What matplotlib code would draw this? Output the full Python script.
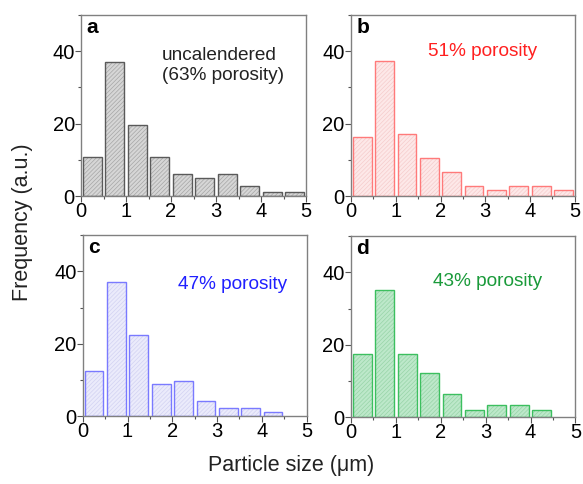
import matplotlib
matplotlib.use('Agg')
import matplotlib.pyplot as plt
from matplotlib.ticker import MultipleLocator

plt.rcParams['font.family'] = ['Liberation Sans', 'DejaVu Sans']
plt.rcParams['hatch.linewidth'] = 0.5

# bin centres (um) and frequencies
bin_centers = [0.25, 0.75, 1.25, 1.75, 2.25, 2.75, 3.25, 3.75, 4.25, 4.75]
freq_a = [10.9, 37.0, 19.5, 10.9, 6.0, 4.9, 6.0, 2.9, 1.0, 1.0]
freq_b = [16.3, 37.2, 17.2, 10.5, 6.6, 2.8, 1.8, 2.8, 2.8, 1.8]
freq_c = [12.5, 37.0, 22.5, 9.0, 9.6, 4.1, 2.2, 2.2, 1.1]
freq_d = [17.5, 35.1, 17.5, 12.1, 6.5, 2.1, 3.3, 3.3, 2.1]

panels = [
    dict(letter='a', data=freq_a, label='uncalendered\n(63% porosity)',
         face='#d6d6d6', edge='#5a5a5a', hatch_col='#a6a6a6', txt='#222222',
         pos=[0.139, 0.595, 0.386, 0.374], tx=0.36, ty=0.72, ha='left'),
    dict(letter='b', data=freq_b, label='51% porosity',
         face='#fde8e8', edge='#ff7a7a', hatch_col='#f6cccc', txt='#ff2020',
         pos=[0.602, 0.595, 0.384, 0.374], tx=0.59, ty=0.80, ha='center'),
    dict(letter='c', data=freq_c, label='47% porosity',
         face='#ebebfb', edge='#7a7aff', hatch_col='#d2d2f2', txt='#2020ff',
         pos=[0.142, 0.140, 0.384, 0.374], tx=0.67, ty=0.73, ha='center'),
    dict(letter='d', data=freq_d, label='43% porosity',
         face='#bde8ca', edge='#3cbf5f', hatch_col='#98d4a8', txt='#1a9a3a',
         pos=[0.602, 0.138, 0.385, 0.374], tx=0.61, ty=0.75, ha='center'),
]

fig = plt.figure(figsize=(5.83, 4.84), dpi=100)

for p in panels:
    ax = fig.add_axes(p['pos'])
    x = bin_centers[:len(p['data'])]
    ax.bar(x, p['data'], width=0.42, color=p['face'], edgecolor=p['hatch_col'],
           hatch='////////', linewidth=0)
    ax.bar(x, p['data'], width=0.42, fill=False, edgecolor=p['edge'], linewidth=1.0)
    ax.set_xlim(0, 5)
    ax.set_ylim(0, 50)
    ax.set_xticks([0, 1, 2, 3, 4, 5])
    ax.set_yticks([0, 20, 40])
    ax.xaxis.set_minor_locator(MultipleLocator(0.5))
    ax.yaxis.set_minor_locator(MultipleLocator(10))
    ax.tick_params(which='major', direction='out', length=4, width=0.8,
                   color='#555555', labelsize=14.5, pad=0.5)
    ax.tick_params(which='minor', direction='out', length=2, width=0.8, color='#555555')
    for s in ax.spines.values():
        s.set_color('#808080')
        s.set_linewidth(1.0)
    ax.text(0.025, 0.93, p['letter'], transform=ax.transAxes, fontsize=15,
            fontweight='bold', ha='left', va='center')
    ax.text(p['tx'], p['ty'], p['label'], transform=ax.transAxes, fontsize=13.7,
            color=p['txt'], ha=p['ha'], va='center', linespacing=1.2)

fig.text(0.038, 0.54, 'Frequency (a.u.)', rotation=90, fontsize=15.5,
         ha='center', va='center', color='#222222')
fig.text(0.5, 0.038, 'Particle size (μm)', fontsize=15.5,
         ha='center', va='center', color='#222222')

fig.savefig('out.png', dpi=100)
